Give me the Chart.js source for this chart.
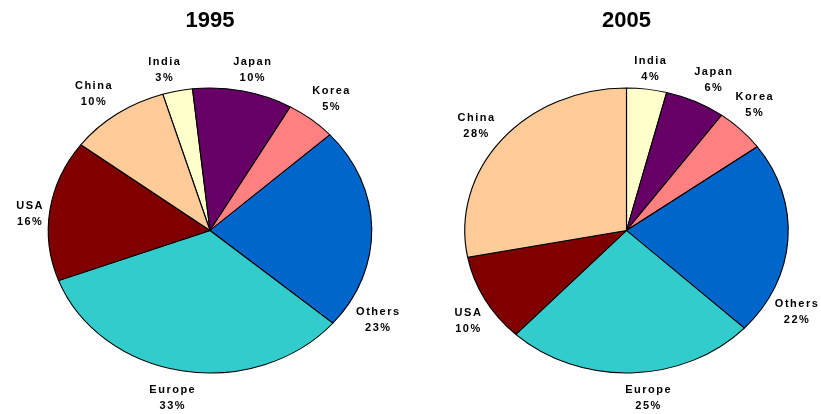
<!DOCTYPE html>
<html>
<head>
<meta charset="utf-8">
<script src="https://cdn.jsdelivr.net/npm/chart.js@4/dist/chart.umd.min.js"></script>
<style>
    html, body { margin: 0; padding: 0; background: #fff; }
    #wrap { position: relative; width: 821px; height: 414px; }
    #wrap canvas { position: absolute; top: 0; }
</style>
</head>
<body>
<div id="wrap">
    <canvas id="chart1995" width="410" height="414" style="left:0"></canvas>
    <canvas id="chart2005" width="411" height="414" style="left:410px"></canvas>
</div>
<script>
// Data (percent shares)
const regions = ['India', 'Japan', 'Korea', 'Others', 'Europe', 'USA', 'China'];
const shares1995 = [3, 10, 5, 23, 33, 16, 10];
const shares2005 = [4, 6, 5, 22, 25, 10, 28];

const regionColors = ['#FFFFCC', '#660066', '#FF8080', '#0066CC', '#33CCCC', '#800000', '#FFCC99'];

// Label placement: angle clockwise from 12 o'clock and distance in radii
const labelAngles1995 = [-14.2, 13.0, 38.9, 121.1, 191.3, 276.1, 322.9];
const labelDist1995 = [1.16, 1.155, 1.19, 1.21, 1.198, 1.123, 1.197];
const labelAngles2005 = [7.3, 26.9, 41.8, 118.6, 173.6, 237.2, 308.1];
const labelDist2005 = [1.146, 1.184, 1.183, 1.196, 1.186, 1.168, 1.184];

const fontFamily = '"Liberation Sans", Arial, sans-serif';

// Pie is drawn a bit wider than tall, labels sit around it
const ellipsePlugin = {
    id: 'ellipse',
    beforeDatasetsDraw(chart, args, opts) {
        const arc = chart.getDatasetMeta(0).data[0];
        const ctx = chart.ctx;
        ctx.save();
        ctx.translate(arc.x, arc.y);
        ctx.scale(opts.stretch, 1);
        ctx.translate(-arc.x, -arc.y);
    },
    afterDatasetsDraw(chart) {
        chart.ctx.restore();
    },
    afterDraw(chart, args, opts) {
        const arc = chart.getDatasetMeta(0).data[0];
        const ry = arc.outerRadius;
        const rx = ry * opts.stretch;
        const ctx = chart.ctx;
        ctx.save();
        ctx.font = 'bold 11px ' + fontFamily;
        ctx.letterSpacing = '1.5px';
        ctx.fillStyle = '#000';
        ctx.textAlign = 'center';
        ctx.textBaseline = 'middle';
        chart.data.labels.forEach((name, i) => {
            const a = opts.angles[i] * Math.PI / 180;
            const k = opts.dist[i];
            const x = arc.x + k * rx * Math.sin(a) + 0.75;
            const y = arc.y - k * ry * Math.cos(a);
            ctx.fillText(name, x, y - 8);
            ctx.fillText(chart.data.datasets[0].data[i] + '%', x, y + 8);
        });
        ctx.restore();
    }
};

const makePie = (canvasId, title, values, rotation, padLeft, angles, dist) => {
    const ctx = document.getElementById(canvasId).getContext('2d');
    return new Chart(ctx, {
        type: 'pie',
        data: {
            labels: regions,
            datasets: [{
                data: values,
                backgroundColor: regionColors,
                borderColor: '#000',
                borderWidth: 1,
                hoverOffset: 0
            }]
        },
        options: {
            responsive: false,
            animation: false,
            events: [],
            rotation: rotation,
            layout: {
                padding: { left: padLeft, right: 0, top: 0, bottom: 40.5 }
            },
            plugins: {
                legend: { display: false },
                tooltip: { enabled: false },
                title: {
                    display: true,
                    text: title,
                    color: '#000',
                    font: { family: fontFamily, size: 22, weight: 'bold' },
                    padding: { top: 8, bottom: 53.1 }
                },
                ellipse: { stretch: 1.135, angles: angles, dist: dist }
            }
        },
        plugins: [ellipsePlugin]
    });
};

window.pie1995 = makePie('chart1995', '1995', shares1995, -17, 10, labelAngles1995, labelDist1995);
window.pie2005 = makePie('chart2005', '2005', shares2005, 0, 22, labelAngles2005, labelDist2005);
</script>
</body>
</html>
